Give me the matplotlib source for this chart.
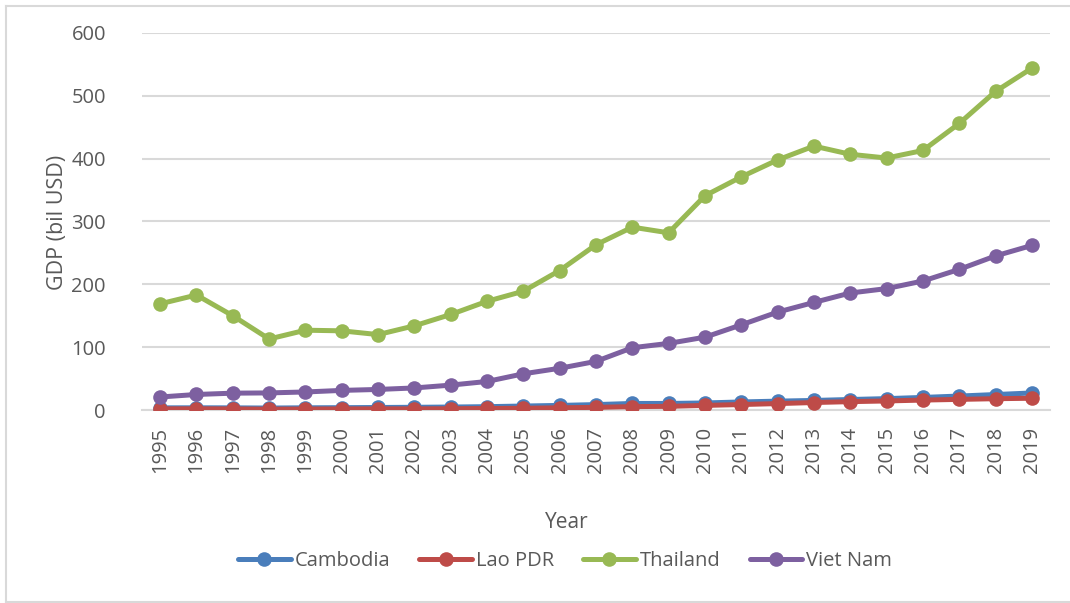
import matplotlib
matplotlib.use("Agg")
import matplotlib.pyplot as plt
from matplotlib.lines import Line2D

plt.rcParams['font.family'] = ['Open Sans', 'DejaVu Sans']

years = [str(y) for y in range(1995, 2020)]

cambodia = [3.4, 3.5, 3.4, 3.1, 3.5, 3.7, 4.0, 4.3, 4.7, 5.3, 6.3, 7.3, 8.6,
            10.4, 10.4, 11.2, 12.8, 14.1, 15.2, 16.7, 18.1, 20.0, 22.2, 24.6, 27.1]
lao_pdr = [1.8, 1.9, 1.7, 1.3, 1.5, 1.7, 1.8, 1.8, 2.0, 2.4, 2.7, 3.5, 4.2,
           5.4, 5.8, 7.3, 8.7, 10.2, 11.9, 13.3, 14.4, 15.8, 16.9, 18.0, 18.7]
thailand = [169, 183, 150, 113, 127, 126, 120, 134, 152, 173, 189, 222, 263,
            291, 282, 341, 371, 398, 420, 407, 401, 413, 456, 507, 544]
viet_nam = [20.7, 24.7, 26.8, 27.2, 28.7, 31.2, 32.7, 35.1, 39.6, 45.4, 57.6,
            66.4, 77.4, 99.1, 106.0, 115.9, 135.5, 155.8, 171.2, 186.2, 193.2,
            205.3, 223.8, 245.2, 261.9]

series = [
    ("Cambodia", cambodia, "#4A7EBB"),
    ("Lao PDR", lao_pdr, "#BE4B48"),
    ("Thailand", thailand, "#98B954"),
    ("Viet Nam", viet_nam, "#7D60A0"),
]

y_ticks = [0, 100, 200, 300, 400, 500, 600]
text_color = "#595959"
grid_color = "#D9D9D9"

W, H = 1070, 603
fig = plt.figure(figsize=(W / 100, H / 100), dpi=100)
ax = fig.add_axes([142 / W, 1 - 410 / H, (1050 - 142) / W, (410 - 33) / H])

x = list(range(len(years)))
for name, vals, color in series:
    ax.plot(x, vals, color=color, lw=3.6, marker='o', markersize=10.5,
            markeredgewidth=0, label=name, solid_capstyle='round')

ax.set_xlim(-0.5, len(years) - 0.5)
ax.set_ylim(0, 600)
ax.set_yticks(y_ticks)
ax.set_xticks(x)
ax.set_xticklabels(years, rotation=90)
ax.grid(axis='y', color=grid_color, lw=1.5)
ax.set_axisbelow(True)
for side in ('top', 'right', 'left'):
    ax.spines[side].set_visible(False)
ax.spines['bottom'].set_color(grid_color)
ax.spines['bottom'].set_linewidth(1.5)
ax.spines['bottom'].set_zorder(0.5)
ax.tick_params(axis='both', length=0, labelsize=14.5, labelcolor=text_color)
ax.tick_params(axis='y', pad=26)
ax.tick_params(axis='x', pad=12)

fig.text(58 / W, 1 - 222 / H, "GDP (bil USD)", fontsize=15.5, color=text_color,
         rotation=90, ha='center', va='center')
fig.text(567 / W, 1 - 522 / H, "Year", fontsize=15, color=text_color,
         ha='center', va='center')

fig.legend(loc='center', bbox_to_anchor=(565 / W, 1 - 561 / H),
           ncol=4, frameon=False, fontsize=14.5, handlelength=2.6,
           handletextpad=0.2, columnspacing=1.45, labelcolor=text_color)

# chart frame: left, top and bottom edges
for xs, ys in [((6 / W, 6 / W), (1 / H, 1 - 6 / H)),
               ((6 / W, 1.0), (1 - 6 / H, 1 - 6 / H)),
               ((6 / W, 1.0), (1 / H, 1 / H))]:
    fig.add_artist(Line2D(xs, ys, transform=fig.transFigure,
                          color=grid_color, lw=1.5))

fig.savefig("out.png", dpi=100, facecolor='white')
